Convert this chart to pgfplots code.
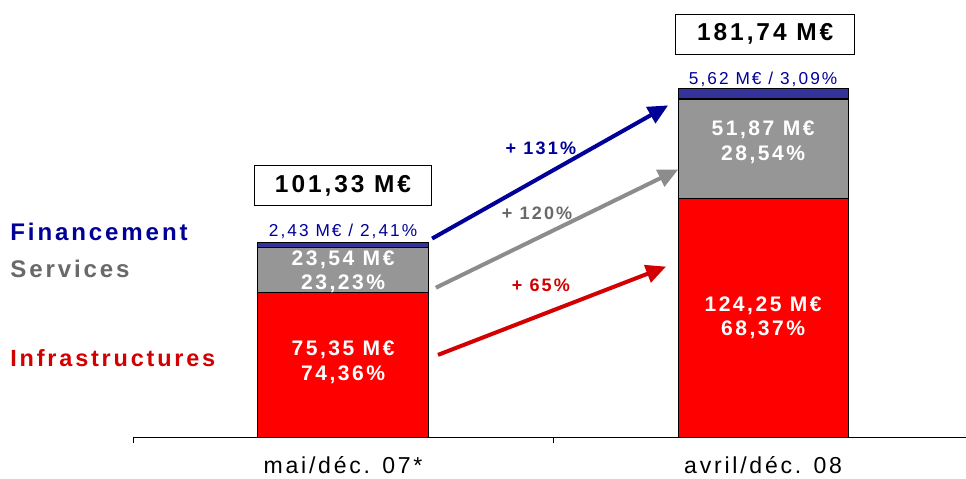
\documentclass[border=0pt]{standalone}
\usepackage{pgfplots}
\pgfplotsset{compat=1.18}
\usepackage{fontspec}
\setmainfont{Liberation Sans}[LetterSpace=12]
\usetikzlibrary{arrows.meta}
\definecolor{cred}{RGB}{255,0,0}
\definecolor{cgray}{RGB}{150,150,150}
\definecolor{cblue}{RGB}{51,51,153}
\definecolor{tblue}{RGB}{0,0,153}
\definecolor{tgray}{RGB}{105,105,105}
\definecolor{tred}{RGB}{210,0,0}
\definecolor{agray}{RGB}{140,140,140}
\begin{document}
\begin{tikzpicture}
\begin{axis}[
  scale only axis, width=415.5pt, height=218pt,
  xmin=-0.5, xmax=1.483, ymin=0, ymax=227.7,
  axis x line=bottom, axis y line=none,
  x axis line style={-, line width=0.5pt},
  xtick={-0.5,0.5,1.5}, xticklabels={},
  major tick length=3pt, tick align=outside, tick style={black, line width=0.5pt},
  extra x ticks={0,1},
  extra x tick labels={mai/déc. 07*, avril/déc. 08},
  extra x tick style={major tick length=0pt, tick label style={font=\fontsize{11.5}{13}\selectfont, yshift=-6pt}},
  ybar stacked, bar width=0.405,
  clip=false,
]
\addplot[fill=cred, draw=black, line width=0.5pt] coordinates {(0,75.35) (1,124.25)};
\addplot[fill=cgray, draw=black, line width=0.5pt] coordinates {(0,23.54) (1,51.87)};
\addplot[fill=cblue, draw=black, line width=0.5pt] coordinates {(0,2.43) (1,5.62)};

\coordinate (V1) at (axis cs:0,39.0);
\coordinate (V2) at (axis cs:0,86.2);
\coordinate (V3) at (axis cs:1,62.1);
\coordinate (V4) at (axis cs:1,153.5);

\node[tblue, font=\fontsize{8.6}{10}\selectfont] at (axis cs:0,107.0) {2,43 M€ / 2,41\%};
\node[tblue, font=\fontsize{8.6}{10}\selectfont] at (axis cs:1,186.4) {5,62 M€ / 3,09\%};

% totals
\node[draw=black, fill=white, line width=0.5pt, minimum width=88.5pt, minimum height=20pt, font=\bfseries\fontsize{12.2}{14}\selectfont] at (axis cs:0,131.1) {101,33 M€};
\node[draw=black, fill=white, line width=0.5pt, minimum width=89.5pt, minimum height=20pt, font=\bfseries\fontsize{12.2}{14}\selectfont] at (axis cs:1.005,209.9) {181,74 M€};

% left labels
\node[tblue, anchor=west, inner sep=0pt, font=\bfseries\fontsize{12}{14}\selectfont] at (axis cs:-0.793,107.0) {Financement};
\node[tgray, anchor=west, inner sep=0pt, font=\bfseries\fontsize{12}{14}\selectfont] at (axis cs:-0.793,87.7) {Services};
\node[tred, anchor=west, inner sep=0pt, font=\bfseries\fontsize{11.7}{14}\selectfont] at (axis cs:-0.793,41.3) {Infrastructures};

% growth arrows
\draw[tblue, line width=2pt, -{Triangle[length=10pt, width=9pt]}] (axis cs:0.212,103.4) -- (axis cs:0.774,172.8);
\draw[agray, line width=2pt, -{Triangle[length=10pt, width=9pt]}] (axis cs:0.221,77.8) -- (axis cs:0.798,139.4);
\draw[tred, line width=2pt, -{Triangle[length=10pt, width=9pt]}] (axis cs:0.226,42.8) -- (axis cs:0.769,88.8);
\node[tblue, font=\bfseries\fontsize{9}{10}\selectfont] at (axis cs:0.471,150.4) {+ 131\%};
\node[tgray, font=\bfseries\fontsize{9}{10}\selectfont] at (axis cs:0.462,116.4) {+ 120\%};
\node[tred, font=\bfseries\fontsize{9}{10}\selectfont] at (axis cs:0.471,78.9) {+ 65\%};

\coordinate (BL) at (axis cs:-0.8167,-21.4);
\coordinate (TR) at (axis cs:1.483,227.7);
\end{axis}
\begin{scope}[every node/.style={white, font=\bfseries\fontsize{10.5}{12.2}\selectfont, align=center}]
\node at (V1) {75,35 M€\\74,36\%};
\node at (V2) {23,54 M€\\23,23\%};
\node at (V3) {124,25 M€\\68,37\%};
\node at (V4) {51,87 M€\\28,54\%};
\end{scope}
\pgfresetboundingbox
\path[use as bounding box] (BL) rectangle (TR);
\end{tikzpicture}
\end{document}
